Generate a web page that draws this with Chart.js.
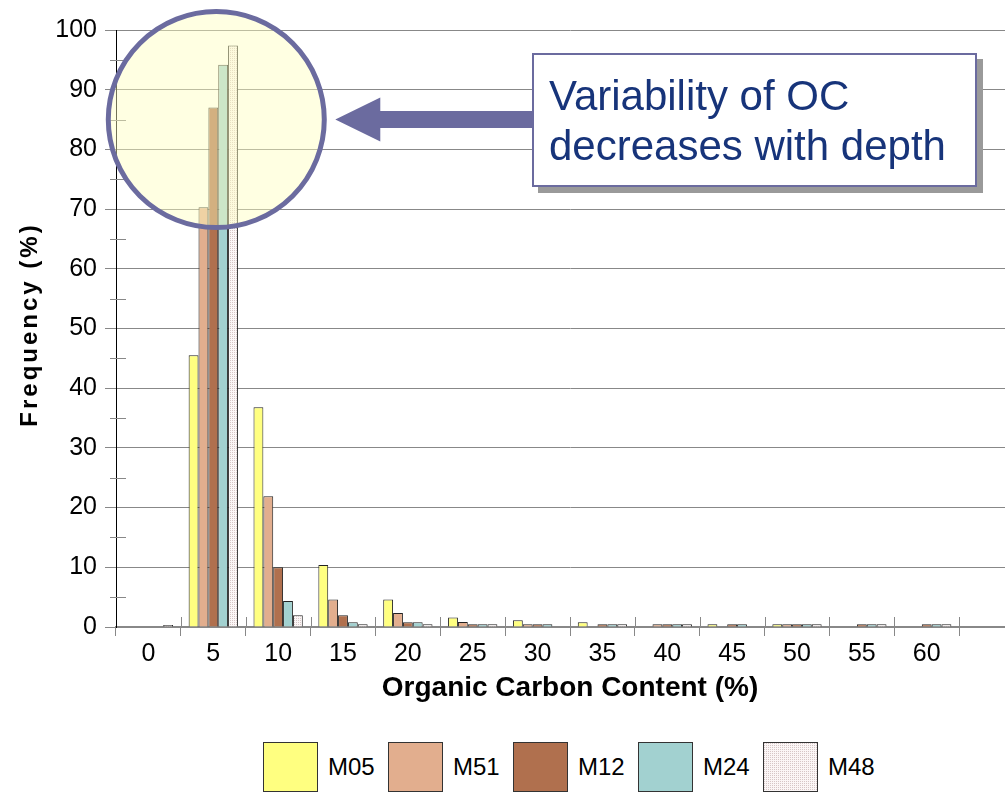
<!DOCTYPE html>
<html>
<head>
<meta charset="utf-8">
<script src="https://cdn.jsdelivr.net/npm/chart.js@4.4.1/dist/chart.umd.min.js"></script>
<style>
  html, body { margin: 0; padding: 0; overflow: hidden; background: #fff; }
  body { width: 1005px; height: 794px; position: relative; font-family: "Liberation Sans", Arial, sans-serif; }
  #chart { position: absolute; left: 0; top: 0; }
  #callout {
    position: absolute; left: 532px; top: 53px; width: 445px; height: 134px;
    box-sizing: border-box; border: 2px solid #6b6b9f; background: #fff;
    box-shadow: 6px 6px 0 #9a9a9a; color: #17347a;
    font-size: 42px; line-height: 50px; padding: 16px 0 0 15px; white-space: nowrap;
  }
  #legend { position: absolute; left: 263px; top: 742px; display: flex; }
  .item { width: 125px; display: flex; align-items: center; }
  .swatch { width: 55px; height: 50px; box-sizing: border-box; border: 1px solid #333; }
  .item span { margin-left: 10px; font-size: 24px; line-height: 50px; color: #000; }
</style>
</head>
<body>
<canvas id="chart" width="1024" height="720"></canvas>
<div id="callout">Variability of OC<br>decreases with depth</div>
<div id="legend"></div>

<script>
// ==== DATA ====
const categories = ['0', '5', '10', '15', '20', '25', '30', '35', '40', '45', '50', '55', '60', ''];
const seriesNames = ['M05', 'M51', 'M12', 'M24', 'M48'];
const m05 = [0, 45.5, 36.8, 10.4, 4.6, 1.6, 1.15, 0.8, 0, 0.45, 0.45, 0, 0, 0];
const m51 = [0, 70.3, 21.9, 4.6, 2.35, 0.85, 0.45, 0, 0.45, 0, 0.45, 0, 0, 0];
const m12 = [0, 87.0, 10.0, 1.95, 0.8, 0.45, 0.45, 0.45, 0.45, 0.45, 0.45, 0.45, 0.45, 0];
const m24 = [0, 94.2, 4.35, 0.8, 0.8, 0.45, 0.45, 0.45, 0.45, 0.45, 0.45, 0.45, 0.45, 0];
const m48 = [0.35, 97.4, 1.95, 0.45, 0.45, 0.45, 0, 0.45, 0.45, 0, 0.45, 0.45, 0.45, 0];
const yTicks = [0, 10, 20, 30, 40, 50, 60, 70, 80, 90, 100];

// ==== STYLE ====
const FONT = '"Liberation Sans", Arial, sans-serif';
const GRID = '#888';
const ACCENT = '#6b6b9f';
const CALLOUT_LEFT = 532;

// dotted fill for M48
function dotPattern() {
  const c = document.createElement('canvas');
  c.width = 2; c.height = 2;
  const g = c.getContext('2d');
  g.fillStyle = '#fbf6f6'; g.fillRect(0, 0, 2, 2);
  g.fillStyle = '#d6c6c6'; g.fillRect(0, 0, 1, 1);
  return c;
}
const patCanvas = dotPattern();
const m48Fill = document.getElementById('chart').getContext('2d').createPattern(patCanvas, 'repeat');

const colors = ['#ffff80', '#e2ae8e', '#b0704e', '#a2d1d0', m48Fill];
const values = [m05, m51, m12, m24, m48];

// Legend (html)
const legend = document.getElementById('legend');
seriesNames.forEach((name, i) => {
  const it = document.createElement('div');
  it.className = 'item';
  const bg = i === 4 ? `url(${patCanvas.toDataURL()})` : colors[i];
  it.innerHTML = `<div class="swatch" style="background:${bg}"></div><span>${name}</span>`;
  legend.appendChild(it);
});

// extras: minor ticks, circle highlight, arrow, y title
const extras = {
  id: 'extras',
  afterDatasetsDraw(chart) {
    const { ctx, chartArea: a, scales: { x, y } } = chart;
    ctx.save();
    ctx.strokeStyle = GRID; ctx.lineWidth = 1;
    for (let v = 5; v < 100; v += 10) {
      const py = Math.round(y.getPixelForValue(v)) + 0.5;
      ctx.beginPath(); ctx.moveTo(a.left - 6, py); ctx.lineTo(a.left + 10, py); ctx.stroke();
    }
    for (let i = 1; i < categories.length; i++) {
      const px = Math.round(x.getPixelForValue(i - 0.5)) + 0.5;
      ctx.beginPath(); ctx.moveTo(px, a.bottom - 10); ctx.lineTo(px, a.bottom); ctx.stroke();
    }

    // highlight circle
    const cx = x.getPixelForValue(1) + 3, cy = y.getPixelForValue(85), R = 108;
    ctx.beginPath(); ctx.arc(cx, cy, R, 0, Math.PI * 2);
    ctx.fillStyle = 'rgba(255,255,190,0.45)'; ctx.fill();
    ctx.lineWidth = 5; ctx.strokeStyle = ACCENT; ctx.stroke();

    // arrow to callout
    const tip = cx + R + 11, head = 45;
    ctx.fillStyle = ACCENT;
    ctx.beginPath();
    ctx.moveTo(tip, cy);
    ctx.lineTo(tip + head, cy - 22);
    ctx.lineTo(tip + head, cy - 8.5);
    ctx.lineTo(CALLOUT_LEFT, cy - 8.5);
    ctx.lineTo(CALLOUT_LEFT, cy + 8.5);
    ctx.lineTo(tip + head, cy + 8.5);
    ctx.lineTo(tip + head, cy + 22);
    ctx.closePath(); ctx.fill();
    ctx.restore();
  },
  afterDraw(chart) {
    const { ctx, chartArea: a } = chart;
    ctx.save();
    ctx.translate(37, (a.top + a.bottom) / 2 - 4);
    ctx.rotate(-Math.PI / 2);
    ctx.font = 'bold 24px ' + FONT;
    ctx.letterSpacing = '3px';
    ctx.fillStyle = '#000';
    ctx.textAlign = 'center';
    ctx.textBaseline = 'alphabetic';
    ctx.fillText('Frequency (%)', 0, 0);
    ctx.restore();
  }
};

Chart.defaults.font.family = FONT;
Chart.defaults.color = '#000';

new Chart(document.getElementById('chart'), {
  type: 'bar',
  data: {
    labels: categories,
    datasets: seriesNames.map((name, i) => ({
      label: name,
      data: values[i],
      backgroundColor: colors[i],
      borderColor: '#222',
      borderWidth: 1,
      categoryPercentage: 0.76,
      barPercentage: 1.0
    }))
  },
  options: {
    responsive: false,
    animation: false,
    devicePixelRatio: 1,
    layout: { padding: { top: 30, right: 0, bottom: 0, left: 0 } },
    plugins: { legend: { display: false }, tooltip: { enabled: false } },
    scales: {
      x: {
        grid: { display: true, drawOnChartArea: false, drawTicks: true, tickLength: 9, offset: true, color: GRID },
        border: { color: GRID, width: 2 },
        ticks: { font: { size: 25 }, padding: 3, maxRotation: 0, autoSkip: false },
        title: { display: true, text: 'Organic Carbon Content (%)', font: { size: 28, weight: 'bold' }, padding: { top: 0, bottom: 15 } },
        afterFit: s => { s.height = 93; }
      },
      y: {
        min: 0, max: 100,
        afterBuildTicks: s => { s.ticks = yTicks.map(v => ({ value: v })); },
        grid: { color: GRID, tickLength: 11 },
        border: { color: '#000', width: 1 },
        ticks: { font: { size: 25 }, padding: 8 },
        afterFit: s => { s.width = 116; }
      }
    }
  },
  plugins: [extras]
});
</script>
</body>
</html>
